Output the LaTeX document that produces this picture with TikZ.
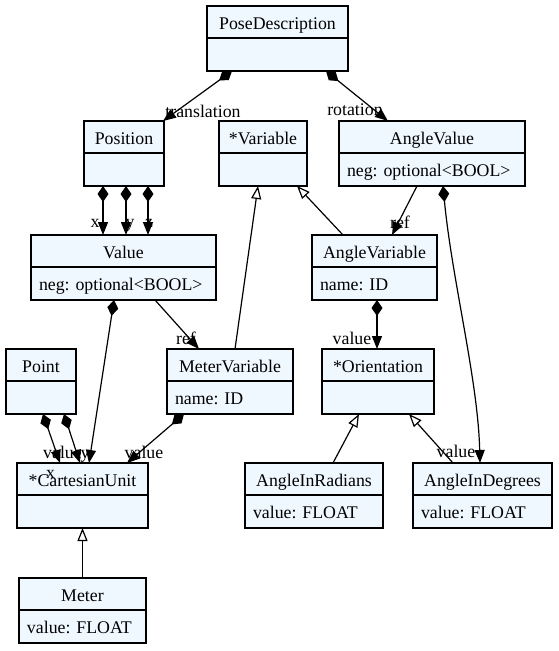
\documentclass[tikz,border=0pt]{standalone}
\usepackage{fontspec}
\setmainfont{Liberation Serif}
\usetikzlibrary{arrows.meta}
\definecolor{boxfill}{HTML}{F0F8FF}
\newcommand\cstrut{\rule[-4pt]{0pt}{22pt}}
\frenchspacing
\begin{document}
\begin{tikzpicture}[x=1pt,y=1pt,font=\fontsize{17.8}{21}\selectfont\frenchspacing,
  hd/.style={draw=black, fill=boxfill, line width=1.2pt, minimum height=32pt, inner sep=0pt, outer sep=0pt, anchor=north},
  bd/.style={draw=black, fill=boxfill, line width=1.2pt, minimum height=33pt, inner xsep=8pt, inner ysep=0pt, outer sep=0pt, anchor=north, align=left},
  lbl/.style={anchor=base, inner sep=0pt},
  comp/.style={line width=1.2pt, {Diamond[length=16pt,width=11pt]}-{Triangle[length=13pt,width=10pt]}},
  assoc/.style={line width=1.2pt, -{Triangle[length=13pt,width=10pt]}},
  inh/.style={line width=1.2pt, -{Triangle[open,length=13pt,width=10pt,fill=white]}}]
\useasboundingbox (0,0) rectangle (558,-651);
% classes
\node[hd, minimum width=141pt] (pose) at (277.5,-6) {\cstrut PoseDescription};
\node[bd, text width=125pt] (poseb) at (pose.south) {\cstrut};
\node[hd, minimum width=80pt] (position) at (124,-121) {\cstrut Position};
\node[bd, text width=64pt] (positionb) at (position.south) {\cstrut};
\node[hd, minimum width=88pt] (var) at (263,-121) {\cstrut *Variable};
\node[bd, text width=72pt] (varb) at (var.south) {\cstrut};
\node[hd, minimum width=186pt] (angval) at (432,-121) {\cstrut AngleValue};
\node[bd, text width=170pt] (angvalb) at (angval.south) {\centering\cstrut\mbox{neg: optional<BOOL>}};
\node[hd, minimum width=185pt] (value) at (123.5,-235) {\cstrut Value};
\node[bd, text width=169pt] (valueb) at (value.south) {\centering\cstrut\mbox{neg: optional<BOOL>}};
\node[hd, minimum width=125pt] (angvar) at (374.5,-235) {\cstrut AngleVariable};
\node[bd, text width=109pt] (angvarb) at (angvar.south) {\cstrut\mbox{name: ID}};
\node[hd, minimum width=70pt] (point) at (41,-349) {\cstrut Point};
\node[bd, text width=54pt] (pointb) at (point.south) {\cstrut};
\node[hd, minimum width=126pt] (metervar) at (230,-349) {\cstrut MeterVariable};
\node[bd, text width=110pt] (metervarb) at (metervar.south) {\cstrut\mbox{name: ID}};
\node[hd, minimum width=112pt] (orient) at (378,-349) {\cstrut *Orientation};
\node[bd, text width=96pt] (orientb) at (orient.south) {\cstrut};
\node[hd, minimum width=131pt] (cart) at (82.5,-463) {\cstrut *CartesianUnit};
\node[bd, text width=115pt] (cartb) at (cart.south) {\cstrut};
\node[hd, minimum width=138pt] (rad) at (314,-463) {\cstrut AngleInRadians};
\node[bd, text width=122pt] (radb) at (rad.south) {\cstrut\mbox{value: FLOAT}};
\node[hd, minimum width=139pt] (deg) at (482.5,-463) {\cstrut AngleInDegrees};
\node[bd, text width=123pt] (degb) at (deg.south) {\cstrut\mbox{value: FLOAT}};
\node[hd, minimum width=127pt] (meter) at (82.5,-578) {\cstrut Meter};
\node[bd, text width=111pt] (meterb) at (meter.south) {\cstrut\mbox{value: FLOAT}};
% connectors
\draw[comp] ([xshift=-45.5pt]poseb.south) -- ([xshift=39pt]position.north);
\draw[comp] ([xshift=48.5pt]poseb.south) -- ([xshift=-44pt]angval.north);
\draw[comp] ([xshift=-21pt]positionb.south) -- ([xshift=-20.5pt]value.north);
\draw[comp] ([xshift=2pt]positionb.south) -- ([xshift=2.5pt]value.north);
\draw[comp] ([xshift=24pt]positionb.south) -- ([xshift=24.5pt]value.north);
\draw[assoc] ([xshift=31.5pt]valueb.south) -- ([xshift=-31pt]metervar.north);
\draw[comp] ([xshift=-9.5pt]valueb.south) -- ([xshift=6.5pt]cart.north);
\draw[comp] ([xshift=2pt]pointb.south) -- ([xshift=-22.5pt]cart.north);
\draw[comp] ([xshift=23pt]pointb.south) -- ([xshift=-2.5pt]cart.north);
\draw[comp] ([xshift=-46pt]metervarb.south) -- ([xshift=44.5pt]cart.north);
\draw[inh] ([xshift=5pt]metervar.north) -- ([xshift=-5pt]varb.south);
\draw[inh] ([xshift=-31.5pt]angvar.north) -- ([xshift=34pt]varb.south);
\draw[assoc] ([xshift=-15pt]angvalb.south) -- ([xshift=17.5pt]angvar.north);
\draw[comp] ([xshift=11pt]angvalb.south) .. controls (452,-280) and (478,-380) .. ([xshift=-2.5pt]deg.north);
\draw[comp] ([xshift=2.5pt]angvarb.south) -- ([xshift=-1pt]orient.north);
\draw[inh] ([xshift=19pt]rad.north) -- ([xshift=-19pt]orientb.south);
\draw[inh] ([xshift=-29.5pt]deg.north) -- ([xshift=31pt]orientb.south);
\draw[inh] (meter.north) -- (cartb.south);
% labels
\node[lbl] (l1) at (203,-117) {translation};
\node[lbl] (l2) at (355,-115) {rotation};
\node[lbl] (l3) at (95,-227) {x};
\node[lbl] (l4) at (130,-227) {y};
\node[lbl] (l5) at (149,-227) {z};
\node[lbl] (l6) at (186,-344) {ref};
\node[lbl] (l7) at (400,-228) {ref};
\node[lbl] (l8) at (352,-344) {value};
\node[lbl] (l9) at (144,-458) {value};
\node[lbl] (l10) at (62.5,-458) {value};
\node[lbl] (l11) at (85,-458) {y};
\node[lbl] (l12) at (50.5,-478) {x};
\node[lbl] (l13) at (456,-457) {value};
\end{tikzpicture}
\end{document}
